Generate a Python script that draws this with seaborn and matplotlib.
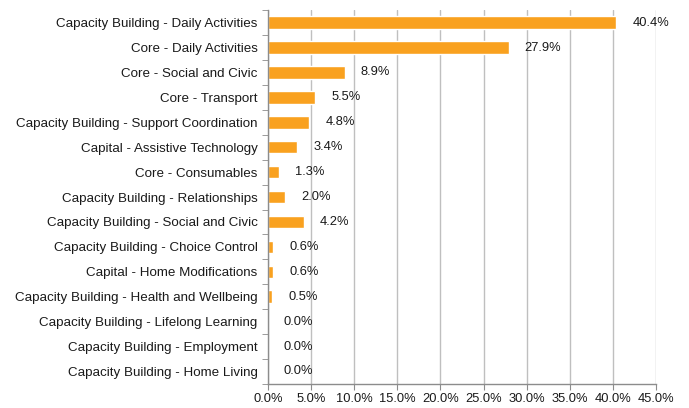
import pandas as pd
import numpy as np
import matplotlib
matplotlib.use("Agg")
import matplotlib.pyplot as plt
import seaborn as sns
from matplotlib.ticker import FixedLocator, PercentFormatter

# =========================
# DATA
# =========================

categories = [
    "Capacity Building - Daily Activities",
    "Core - Daily Activities",
    "Core - Social and Civic",
    "Core - Transport",
    "Capacity Building - Support Coordination",
    "Capital - Assistive Technology",
    "Core - Consumables",
    "Capacity Building - Relationships",
    "Capacity Building - Social and Civic",
    "Capacity Building - Choice Control",
    "Capital - Home Modifications",
    "Capacity Building - Health and Wellbeing",
    "Capacity Building - Lifelong Learning",
    "Capacity Building - Employment",
    "Capacity Building - Home Living",
]
shares = [40.4, 27.9, 8.9, 5.5, 4.8, 3.4, 1.3, 2.0, 4.2, 0.6, 0.6, 0.5, 0.0, 0.0, 0.0]
x_ticks = [0, 5, 10, 15, 20, 25, 30, 35, 40, 45]

df = pd.DataFrame({"category": categories, "share": shares})

# =========================
# PLOT
# =========================

sns.set_style("white")
plt.rcParams["font.family"] = ["Liberation Sans", "DejaVu Sans"]
plt.rcParams["font.size"] = 9.3

fig = plt.figure(figsize=(6.89, 4.08), dpi=100)
ax = fig.add_axes([0.389, 0.059, 0.563, 0.916])

sns.barplot(
    data=df,
    x="share",
    y="category",
    orient="h",
    color="#F9A11F",
    saturation=1,
    width=0.5,
    ax=ax,
)

# value labels
for i, v in enumerate(shares):
    ax.text(v + 1.85, i, f"{v:.1f}%", va="center", ha="left",
            fontsize=9.3, color="#1a1a1a")

ax.set_xlim(0, 45)
ax.set_ylim(len(categories) - 0.5, -0.5)
ax.set_xticks(x_ticks)
ax.xaxis.set_major_formatter(PercentFormatter(decimals=1))
ax.set_xlabel("")
ax.set_ylabel("")

ax.grid(axis="x", color="#BFBFBF", linewidth=1)
ax.grid(axis="y", visible=False)
ax.set_axisbelow(True)

for side in ["top", "right"]:
    ax.spines[side].set_visible(False)
for side in ["left", "bottom"]:
    ax.spines[side].set_color("#8C8C8C")
    ax.spines[side].set_linewidth(1)

# category tick marks at band boundaries
ax.yaxis.set_minor_locator(FixedLocator(np.arange(-0.5, len(categories), 1)))
ax.tick_params(axis="y", which="major", length=0, pad=7.5,
               labelsize=9.6, labelcolor="#1a1a1a")
ax.tick_params(axis="y", which="minor", length=4, color="#8C8C8C", left=True)
ax.tick_params(axis="x", which="major", length=4, color="#8C8C8C",
               bottom=True, direction="out", pad=2.5, labelcolor="#1a1a1a")

fig.savefig("out.png", dpi=100)
